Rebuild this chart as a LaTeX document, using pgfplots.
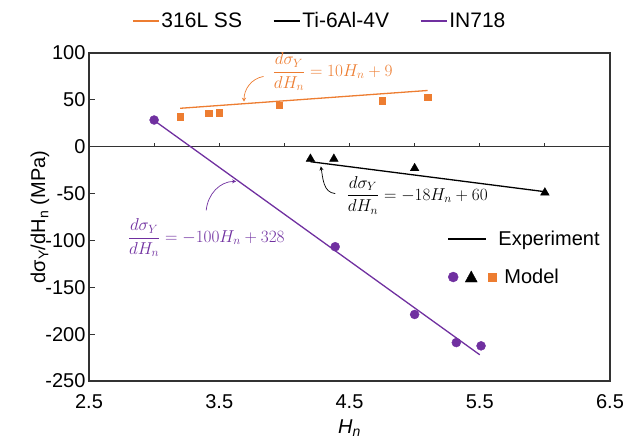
\documentclass[border=0pt]{standalone}
\usepackage{amsmath}
\usepackage[no-math]{fontspec}
\setmainfont{Liberation Sans}
\usepackage{pgfplots}
\pgfplotsset{compat=1.18}
\usetikzlibrary{arrows.meta}
\definecolor{ssorange}{HTML}{ED7D31}
\definecolor{inpurple}{HTML}{7030A0}
\definecolor{framegray}{HTML}{333333}

\begin{document}
\begin{tikzpicture}[font=\fontsize{20bp}{24bp}\selectfont]
\path[use as bounding box] (0,0) rectangle (638bp,442bp);
\begin{axis}[at={(89bp,61bp)},anchor=south west,scale only axis,width=521bp,height=328bp,
  xmin=2.5,xmax=6.5,ymin=-250,ymax=100,
  xtick={2.5,3.5,4.5,5.5,6.5},ytick={-250,-200,-150,-100,-50,0,50,100},
  xticklabels={2.5,3.5,4.5,5.5,6.5},
  /pgf/number format/assume math mode=true,
  xtick style={draw=none},ytick pos=left,ytick align=inside,
  major tick length=6bp,
  tick style={framegray,line width=0.9bp},
  axis line style={framegray,line width=1.1bp},
  xticklabel style={yshift=-10bp},
  xlabel={\textit{H}\textsubscript{\textit{n}}},
  ylabel={dσ\textsubscript{Y}/dH\textsubscript{n} (MPa)},
  xlabel style={at={(axis description cs:0.5,0)},anchor=center,yshift=-47bp},
  ylabel style={at={(axis description cs:0,0.5)},anchor=center},
  every axis y label/.append style={yshift=49bp},
  legend columns=3,legend cell align=left,
  legend image code/.code={\draw[#1] (0bp,0bp) -- (26bp,0bp);},
  legend style={at={(0.443,1.0976)},anchor=center,draw=none,fill=none,
    font=\fontsize{21bp}{25bp}\selectfont,nodes={inner sep=2bp},
    /tikz/column 2/.style={column sep=29bp},/tikz/column 4/.style={column sep=29bp}},
  clip=false]
% zero line with upward ticks
\draw[framegray,line width=1bp] (axis cs:2.5,0) -- (axis cs:6.5,0);
\draw[framegray,line width=0.9bp]
  (axis cs:3,0) -- (axis cs:3,4.4) (axis cs:3.5,0) -- (axis cs:3.5,4.4)
  (axis cs:4,0) -- (axis cs:4,4.4) (axis cs:4.5,0) -- (axis cs:4.5,4.4)
  (axis cs:5,0) -- (axis cs:5,4.4) (axis cs:5.5,0) -- (axis cs:5.5,4.4)
  (axis cs:6,0) -- (axis cs:6,4.4);
% fitted lines
\addplot[ssorange,line width=1.3bp] coordinates {(3.2,41) (5.1,60)};
\addlegendentry{316L SS}
\addplot[black,line width=1.3bp] coordinates {(4.2,-16) (6.0,-48)};
\addlegendentry{Ti-6Al-4V}
\addplot[inpurple,line width=1.3bp] coordinates {(3.0,28) (5.5,-222)};
\addlegendentry{IN718}
% model points
\addplot[forget plot,only marks,mark=square*,mark size=3.2bp,color=ssorange]
  coordinates {(3.2,32) (3.42,35.5) (3.5,36.5) (3.96,44) (4.75,49) (5.1,53)};
\addplot[forget plot,only marks,mark=triangle*,mark size=5bp,color=black]
  coordinates {(4.2,-13) (4.38,-13) (5.0,-23) (6.0,-49)};
\addplot[forget plot,only marks,mark=*,mark size=4.5bp,color=inpurple]
  coordinates {(3.0,28.5) (4.39,-106.7) (5.0,-179) (5.32,-209) (5.51,-212.5)};
% equations
\node[text=ssorange,font=\fontsize{17bp}{20bp}\selectfont] at (axis cs:4.37,80) {$\dfrac{d\sigma_Y}{dH_n} = 10H_n + 9$};
\node[text=black,font=\fontsize{17bp}{20bp}\selectfont] at (axis cs:5.02,-52) {$\dfrac{d\sigma_Y}{dH_n} = -18H_n + 60$};
\node[text=inpurple,font=\fontsize{17bp}{20bp}\selectfont] at (axis cs:3.40,-97) {$\dfrac{d\sigma_Y}{dH_n} = -100H_n + 328$};
\draw[ssorange,line width=0.7bp,-{Stealth[length=4bp,width=4bp]}] (axis cs:3.84,75) to[out=190,in=90] (axis cs:3.69,48);
\draw[black,line width=0.7bp,-{Stealth[length=4bp,width=4bp]}] (axis cs:4.39,-50) to[out=175,in=-80] (axis cs:4.28,-21);
\draw[inpurple,line width=0.7bp,-{Stealth[length=4bp,width=4bp]}] (axis cs:3.40,-68) to[out=85,in=180] (axis cs:3.63,-37);
\end{axis}
\begin{axis}[at={(89bp,61bp)},anchor=south west,scale only axis,width=521bp,height=328bp,
  hide axis,xmin=0,xmax=1,ymin=0,ymax=1,legend cell align=left,
  legend style={at={(0.681,0.47)},anchor=north west,draw=none,fill=none,
    font=\fontsize{20bp}{24bp}\selectfont,row sep=18bp,nodes={inner sep=2bp}}]
\addplot[draw=none,forget plot] coordinates {(0,0)};
\addlegendimage{legend image code/.code={\draw[black,line width=2.5bp] (0bp,0bp) -- (38bp,0bp);}}
\addlegendentry{Experiment}
\addlegendimage{legend image code/.code={
  \fill[inpurple] (5bp,0bp) circle (5bp);
  \fill[black] (17bp,-5bp) -- (29bp,-5bp) -- (23bp,6bp) -- cycle;
  \fill[ssorange] (40bp,-4bp) rectangle (48bp,4bp);}}
\addlegendentry{\hspace*{6bp}Model}
\end{axis}
\end{tikzpicture}
\end{document}
